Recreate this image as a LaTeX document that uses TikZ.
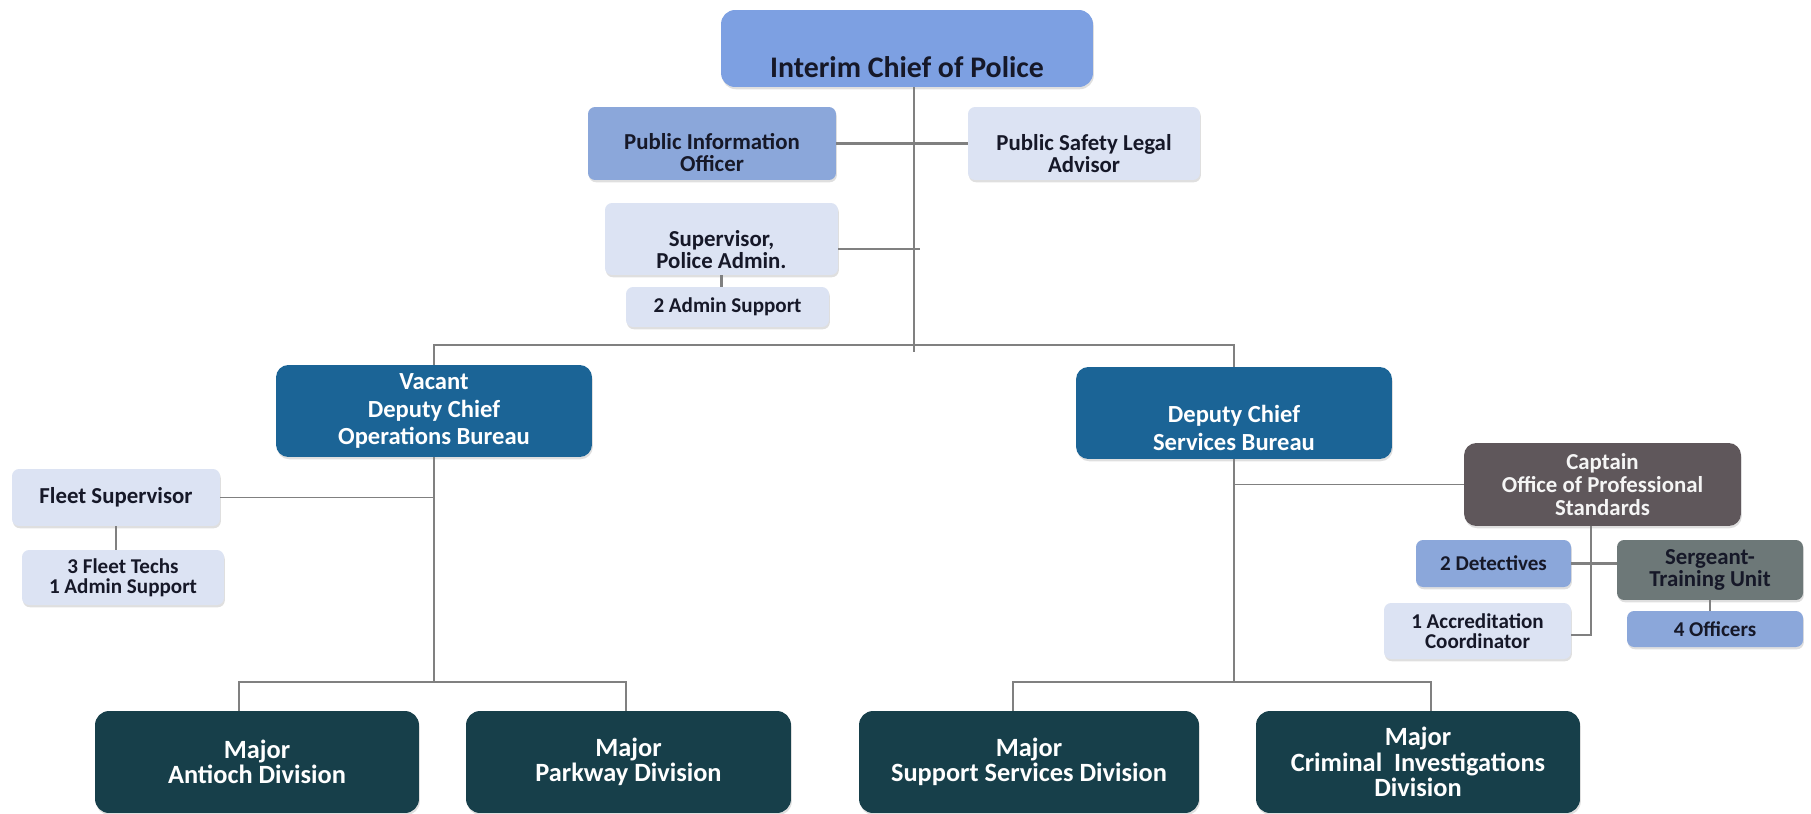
\documentclass[tikz,border=0pt]{standalone}
\usepackage{fontspec}
\setmainfont{Carlito}
\usetikzlibrary{shadows}
\definecolor{chiefblue}{RGB}{125,160,226}
\definecolor{midblue}{RGB}{139,167,218}
\definecolor{paleblue}{RGB}{220,227,243}
\definecolor{deputy}{RGB}{27,100,150}
\definecolor{major}{RGB}{23,63,74}
\definecolor{captain}{RGB}{95,87,91}
\definecolor{sergeant}{RGB}{109,120,120}
\definecolor{wiregray}{RGB}{128,128,128}
\definecolor{ink}{RGB}{22,24,40}
\begin{document}
\begin{tikzpicture}[x=0.02cm,y=-0.02cm]
	\tikzset{
		box/.style={rectangle,rounded corners=4pt,align=center,inner sep=1pt,text=ink,
			drop shadow={opacity=.25,shadow xshift=.5pt,shadow yshift=-1.3pt}},
		pale/.style={box,fill=paleblue},
		mid/.style={box,fill=midblue},
		% deputy chiefs
		dep/.style={box,fill=deputy,text=white,rounded corners=7pt,minimum width=6.32cm,minimum height=1.84cm,
			font=\fontsize{14}{15.5}\selectfont\bfseries},
		% majors
		maj/.style={box,fill=major,text=white,rounded corners=8pt,minimum height=2.04cm,
			font=\fontsize{15}{14.5}\selectfont\bfseries},
		% text set a bit below the box centre
		txt/.style={align=center,text=ink,inner sep=0pt},
		fa/.style={font=\fontsize{12}{11.5}\selectfont\bfseries},
		fb/.style={font=\fontsize{13}{12.5}\selectfont\bfseries},
		wire/.style={draw=wiregray,line width=1.2pt},
	}
	\useasboundingbox (0,0) rectangle (1811,814);
	%
	\node[box,fill=chiefblue,rounded corners=8pt,minimum width=7.44cm,minimum height=1.54cm] (chief) at (907,48.5) {};
	\node[txt,font=\fontsize{17}{17}\selectfont\bfseries] (chief-t) at ([yshift=-0.37cm]chief.center) {Interim Chief of Police};
	%
	\node[mid,minimum width=4.96cm,minimum height=1.46cm] (pio) at (712,143.5) {};
	\node[txt,fb] (pio-t) at ([yshift=-0.19cm]pio.center) {Public Information\\Officer};
	\node[pale,minimum width=4.64cm,minimum height=1.46cm] (legal) at (1084,143.5) {};
	\node[txt,fb] (legal-t) at ([yshift=-0.21cm]legal.center) {Public Safety Legal\\Advisor};
	\node[pale,minimum width=4.66cm,minimum height=1.44cm] (supv) at (721.5,239) {};
	\node[txt,fb] (supv-t) at ([yshift=-0.22cm]supv.center) {Supervisor,\\Police Admin.};
	\node[pale,fa,minimum width=4.06cm,minimum height=0.8cm] (admin) at (727.5,307) {2 Admin Support};
	%
	\node[dep] (ops) at (434,411) {Vacant\\Deputy Chief\\Operations Bureau};
	\node[dep] (serv) at (1234,413) {};
	\node[txt,text=white,font=\fontsize{14}{15.5}\selectfont\bfseries] (serv-t) at ([yshift=-0.3cm]serv.center) {Deputy Chief\\Services Bureau};
	%
	\node[pale,fb,minimum width=4.16cm,minimum height=1.14cm] (fleet) at (116,497.5) {Fleet Supervisor};
	\node[pale,fa,minimum width=4.04cm,minimum height=1.1cm] (techs) at (123,577.5) {3 Fleet Techs\\1 Admin Support};
	%
	\node[box,fill=captain,text=white!92!gray,rounded corners=7pt,minimum width=5.54cm,minimum height=1.66cm,
		font=\fontsize{13}{13}\selectfont\bfseries] (capt) at (1602.5,484.5) {Captain\\Office of Professional\\Standards};
	\node[mid,fa,minimum width=3.1cm,minimum height=0.94cm] (det) at (1493.5,563.5) {2 Detectives};
	\node[box,fb,fill=sergeant,minimum width=3.72cm,minimum height=1.2cm] (sgt) at (1710,570) {Sergeant-\\Training Unit};
	\node[pale,fa,minimum width=3.74cm,minimum height=1.12cm] (accr) at (1477.5,631) {1 Accreditation\\Coordinator};
	\node[mid,fa,minimum width=3.52cm,minimum height=0.72cm] (offc) at (1715,629) {4 Officers};
	%
	\node[maj,minimum width=6.48cm] (antioch) at (257,762) {Major\\Antioch Division};
	\node[maj,minimum width=6.5cm] (parkway) at (628.5,762) {Major\\Parkway Division};
	\node[maj,minimum width=6.8cm] (support) at (1029,762) {Major\\Support Services Division};
	\node[maj,minimum width=6.48cm] (cid) at (1418,762) {Major\\Criminal\ \ Investigations\\Division};
	%
	\coordinate (hub) at (914,345);
	\coordinate (hubend) at (914,352);
	\coordinate (supvend) at (920,249);
	\coordinate (dA) at (239,682);
	\coordinate (dP) at (626,682);
	\coordinate (dS) at (1013,682);
	\coordinate (dC) at (1431,682);
	\coordinate (cbot) at (1591,635);
	%
	\draw[wire] (chief.south -| hub) -- (hubend);
	\draw[wire] (pio) -- (legal);
	\draw[wire] (supv.east |- supvend) -- (supvend);
	\draw[wire] (supv.south) -- (supv.south |- admin.north);
	\draw[wire] (ops.north) |- (hub) -| (serv.north);
	%
	\draw[wire] (ops.south) -- (ops.south |- dA);
	\draw[wire,line width=.9pt] (fleet.east) -- (fleet.east -| ops.south);
	\draw[wire] (fleet.south) -- (fleet.south |- techs.north);
	\draw[wire] (antioch.north -| dA) -- (dA) -- (dP) -- (parkway.north -| dP);
	%
	\draw[wire] (serv.south) -- (serv.south |- dS);
	\draw[wire,line width=.9pt] (capt.west) -- (capt.west -| serv.south);
	\draw[wire] (support.north -| dS) -- (dS) -- (dC) -- (cid.north -| dC);
	\draw[wire] (capt.south -| cbot) -- (cbot) -- (accr.east |- cbot);
	\draw[wire] (det.east) -- (sgt.west |- det.east);
	\draw[wire] (sgt.south) -- (sgt.south |- offc.north);
\end{tikzpicture}
\end{document}
